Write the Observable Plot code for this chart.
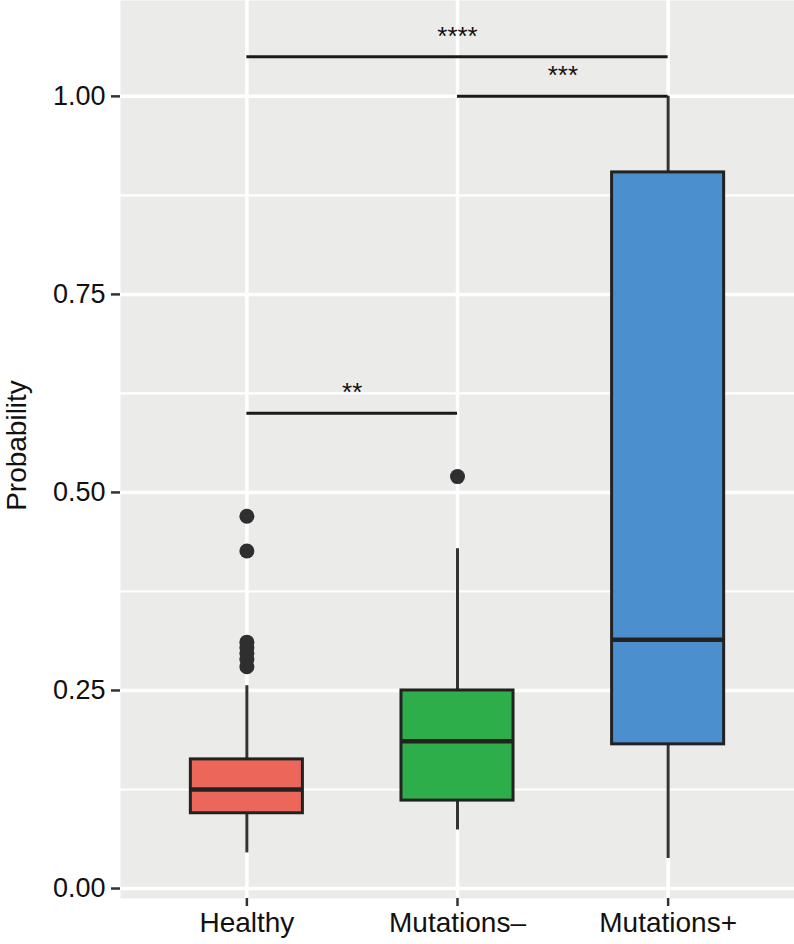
<!DOCTYPE html>
<html>
<head>
<meta charset="utf-8">
<script src="https://cdn.jsdelivr.net/npm/d3@7"></script>
<script src="https://cdn.jsdelivr.net/npm/@observablehq/plot@0.6"></script>
<style>
  html, body { margin: 0; padding: 0; background: #fff; }
  #chart { width: 794px; height: 944px; }
</style>
</head>
<body>
<div id="chart"></div>
<script>
// ---- data ----
const categories = ["Healthy", "Mutations–", "Mutations+"];
const q1 = [0.095, 0.111, 0.182];
const medians = [0.125, 0.186, 0.314];
const q3 = [0.163, 0.250, 0.904];
const whiskerLow = [0.045, 0.074, 0.038];
const whiskerHigh = [0.256, 0.429, 1.000];
const fillColors = ["#EC6659", "#2EAE4A", "#4C8FCF"];

const outlierGroup = ["Healthy", "Healthy", "Healthy", "Healthy", "Healthy", "Healthy", "Healthy", "Mutations–"];
const outlierValue = [0.470, 0.426, 0.280, 0.289, 0.297, 0.304, 0.311, 0.520];

const bracketFrom = ["Healthy", "Mutations–", "Healthy"];
const bracketTo = ["Mutations–", "Mutations+", "Mutations+"];
const bracketY = [0.60, 1.00, 1.05];
const bracketLabel = ["**", "***", "****"];

const yTicks = [0, 0.25, 0.50, 0.75, 1.00];
const yMinor = [0.125, 0.375, 0.625, 0.875];

// ---- tables built from the arrays ----
const idx = c => categories.indexOf(c);
const half = 0.266; // half box width in category units
const boxes = categories.map((c, i) => ({
  i, q1: q1[i], med: medians[i], q3: q3[i], lo: whiskerLow[i], hi: whiskerHigh[i], fill: fillColors[i]
}));
const outliers = outlierGroup.map((g, k) => ({i: idx(g), v: outlierValue[k]}));
const brackets = bracketFrom.map((f, k) => ({a: idx(f), b: idx(bracketTo[k]), y: bracketY[k], label: bracketLabel[k]}));
const catIdx = categories.map((c, i) => i);

const chart = Plot.plot({
  width: 794,
  height: 944,
  marginLeft: 120,
  marginRight: 0,
  marginTop: 0,
  marginBottom: 46,
  style: {fontFamily: "'Liberation Sans', Arial, Helvetica, sans-serif", background: "#fff"},
  x: {domain: [-0.6, 2.6], label: null},
  y: {domain: [-0.0126, 1.121], label: null},
  marks: [
    Plot.frame({fill: "#EBEBEA", stroke: null}),
    Plot.ruleY(yMinor, {stroke: "#fff", strokeWidth: 2.2}),
    Plot.ruleY(yTicks, {stroke: "#fff", strokeWidth: 3.5}),
    Plot.ruleX(catIdx, {stroke: "#fff", strokeWidth: 3.5}),
    Plot.ruleX(boxes, {x: "i", y1: "lo", y2: "hi", stroke: "#333", strokeWidth: 3}),
    Plot.rectY(boxes, {x1: d => d.i - half, x2: d => d.i + half, y1: "q1", y2: "q3", fill: "fill", stroke: "#222", strokeWidth: 3}),
    Plot.ruleY(boxes, {x1: d => d.i - half, x2: d => d.i + half, y: "med", stroke: "#222", strokeWidth: 4.5}),
    Plot.dot(outliers, {x: "i", y: "v", r: 7.5, fill: "#2f2f2f", stroke: null}),
    Plot.ruleY(brackets, {x1: "a", x2: "b", y: "y", stroke: "#1a1a1a", strokeWidth: 3}),
    Plot.text(brackets, {x: d => (d.a + d.b) / 2, y: "y", text: "label", fontSize: 26, dy: -12, lineAnchor: "bottom", fill: "#111"}),
    Plot.axisY({ticks: yTicks, tickFormat: d3.format(".2f"), tickSize: 9, tickPadding: 6, fontSize: 27, stroke: "#333", strokeWidth: 2.5, fill: "#111", label: null}),
    Plot.axisX({ticks: catIdx, tickFormat: i => categories[i], tickSize: 8, tickPadding: 6, fontSize: 28, stroke: "#333", strokeWidth: 2.5, fill: "#111", label: null}),
    Plot.text(["Probability"], {frameAnchor: "left", textAnchor: "middle", lineAnchor: "middle", rotate: -90, dx: -103, dy: -4, fontSize: 28, fill: "#111"})
  ]
});
document.getElementById("chart").appendChild(chart);
</script>
</body>
</html>
